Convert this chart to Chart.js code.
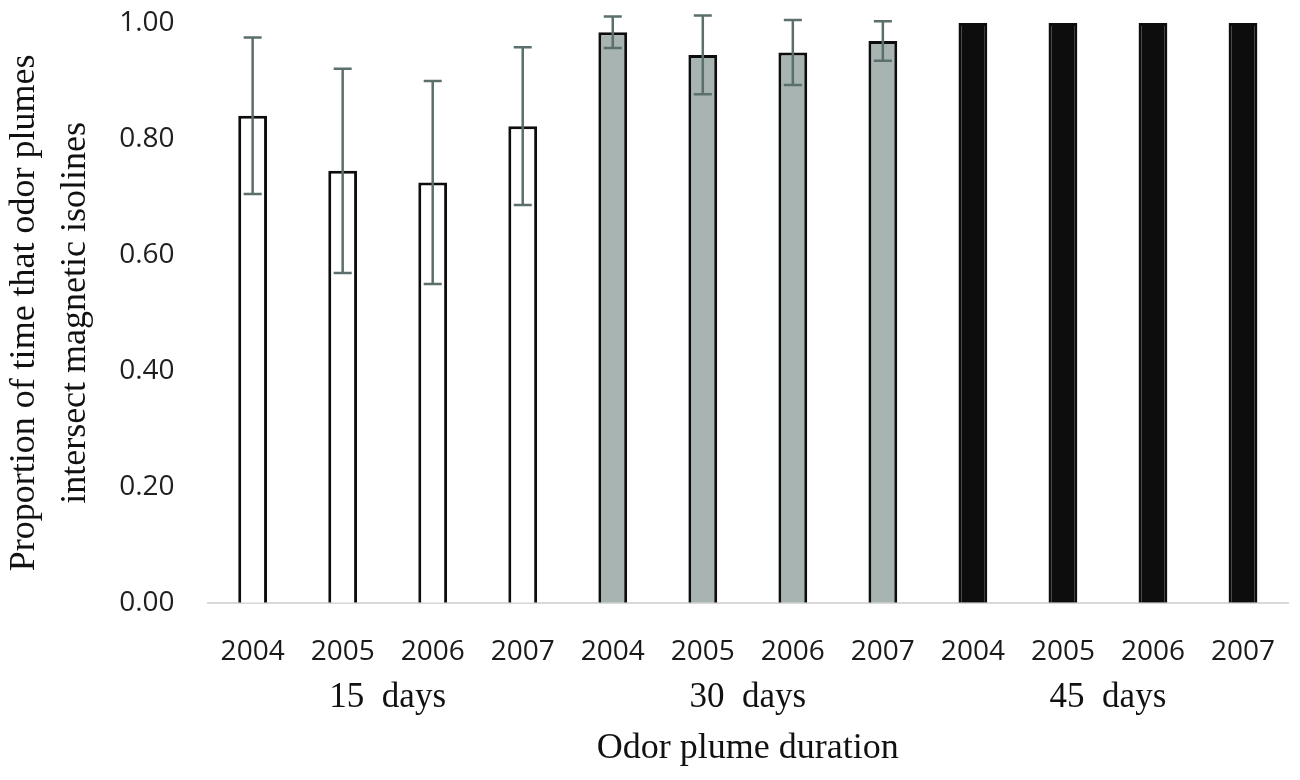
<!DOCTYPE html>
<html>
<head>
<meta charset="utf-8">
<script src="https://cdn.jsdelivr.net/npm/chart.js@4.4.1/dist/chart.umd.min.js"></script>
<style>
  html, body { margin: 0; padding: 0; background: #fff; }
  #wrap { width: 1300px; height: 780px; }
</style>
</head>
<body>
<div id="wrap"><canvas id="chartPlume"></canvas></div>
<script>
// values
const yearLabels = ["2004", "2005", "2006", "2007", "2004", "2005", "2006", "2007", "2004", "2005", "2006", "2007"];
const groupLabels = ["15  days", "30  days", "45  days"];
const means = [0.84, 0.745, 0.725, 0.822, 0.984, 0.945, 0.949, 0.969, 1.0, 1.0, 1.0, 1.0];
const errors = [0.135, 0.176, 0.175, 0.136, 0.027, 0.068, 0.056, 0.034, 0, 0, 0, 0];
const yTicks = [0, 0.2, 0.4, 0.6, 0.8, 1.0];

const fills = means.map((_, i) => (i < 4 ? "#ffffff" : i < 8 ? "#a7b4b1" : "#0d0d0d"));

// error bars drawn on top of each bar
const errorBars = {
    id: "errorBars",
    afterDatasetsDraw(chart) {
        const { ctx } = chart;
        const yScale = chart.scales.y;
        const meta = chart.getDatasetMeta(0);
        ctx.save();
        ctx.strokeStyle = "#5b6f6c";
        ctx.lineWidth = 2.5;
        meta.data.forEach((bar, i) => {
            const e = errors[i];
            if (!e) return;
            const x = bar.x;
            const yTop = yScale.getPixelForValue(means[i] + e);
            const yBot = yScale.getPixelForValue(means[i] - e);
            ctx.beginPath();
            ctx.moveTo(x, yTop);
            ctx.lineTo(x, yBot);
            ctx.moveTo(x - 9, yTop);
            ctx.lineTo(x + 9, yTop);
            ctx.moveTo(x - 9, yBot);
            ctx.lineTo(x + 9, yBot);
            ctx.stroke();
        });
        ctx.restore();
    },
};

Chart.defaults.font.family = "'Open Sans', sans-serif";
Chart.defaults.color = "#222";

const serif = "'Liberation Serif', 'Times New Roman', serif";

new Chart(document.getElementById("chartPlume"), {
    type: "bar",
    data: {
        labels: yearLabels,
        datasets: [
            {
                data: means,
                backgroundColor: fills,
                borderColor: "#0d0d0d",
                borderWidth: 3,
                borderSkipped: "bottom",
                categoryPercentage: 1,
                barPercentage: 0.32,
            },
        ],
    },
    options: {
        responsive: true,
        maintainAspectRatio: false,
        animation: false,
        layout: { padding: { top: 23, right: 12, left: 0, bottom: 0 } },
        plugins: { legend: { display: false }, tooltip: { enabled: false } },
        scales: {
            x: {
                grid: { display: false, drawTicks: false },
                border: { display: true, color: "#d9d9d9", width: 2 },
                ticks: { font: { size: 28 }, color: "#1a1a1a", padding: 32, maxRotation: 0 },
                afterFit: (axis) => {
                    axis.height = 74;
                    axis.paddingLeft = 0;
                    axis.paddingRight = 0;
                },
            },
            x2: {
                type: "category",
                labels: groupLabels,
                position: "bottom",
                weight: 1,
                grid: { display: false, drawTicks: false },
                border: { display: false },
                ticks: { font: { family: serif, size: 35 }, color: "#111", padding: 0 },
                title: {
                    display: true,
                    text: "Odor plume duration",
                    font: { family: serif, size: 36 },
                    color: "#111",
                    padding: { top: 8, bottom: 10 },
                },
                afterFit: (axis) => {
                    axis.paddingLeft = 0;
                    axis.paddingRight = 0;
                },
            },
            y: {
                min: 0,
                max: 1,
                afterBuildTicks: (axis) => {
                    axis.ticks = yTicks.map((v) => ({ value: v }));
                },
                afterFit: (axis) => {
                    axis.paddingTop = 0;
                    axis.paddingBottom = 0;
                },
                grid: { display: false, drawTicks: false },
                border: { display: false },
                ticks: {
                    font: { size: 28 },
                    color: "#1f1f1f",
                    padding: 33,
                    callback: (v) => Number(v).toFixed(2),
                },
                title: {
                    display: true,
                    text: ["Proportion of time that odor plumes", "intersect magnetic isolines"],
                    font: { family: serif, size: 36, lineHeight: 1.42 },
                    color: "#111",
                    padding: { top: -1, bottom: -15 },
                },
            },
        },
    },
    plugins: [errorBars],
});
</script>
</body>
</html>
